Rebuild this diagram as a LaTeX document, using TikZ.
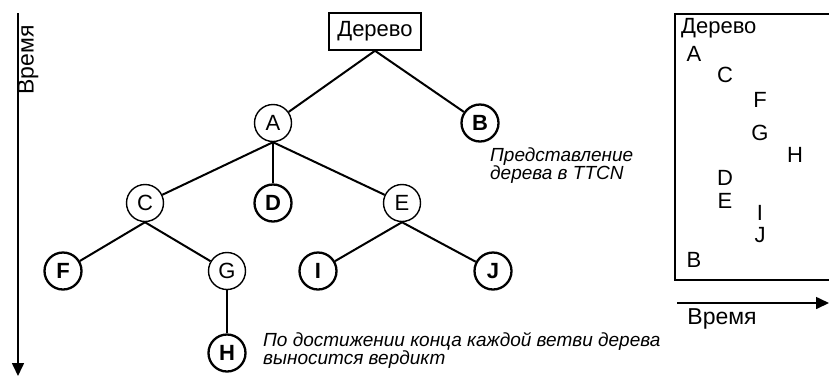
\documentclass[tikz,border=0pt]{standalone}
\usepackage{fontspec}
\setmainfont{Liberation Sans}
\usetikzlibrary{arrows.meta, positioning}

\begin{document}
\begin{tikzpicture}[
    x=1pt, y=-1pt,
    inner/.style={draw, circle, line width=1.4pt, minimum size=37pt, inner sep=0pt, font=\fontsize{22}{22}\selectfont},
    leaf/.style={inner, line width=2.3pt, font=\fontsize{22}{22}\selectfont\bfseries},
    root/.style={draw, rectangle, line width=1.5pt, minimum width=92pt, minimum height=37pt, inner sep=0pt, font=\fontsize{22}{22}\selectfont},
    branch/.style={draw, line width=2pt},
    entry/.style={inner sep=0pt, anchor=base, font=\fontsize{22}{22}\selectfont},
    note/.style={align=left, inner sep=0pt, anchor=west, font=\fontsize{19}{18}\selectfont\itshape},
    timeline/.style={draw, line width=1.6pt, -{Triangle[length=13pt,width=12pt]}}
]
\useasboundingbox (0,0) rectangle (829,376);

% tree
\node[root] (tree) at (375,31.5) {Дерево};
\node[inner] (A) at (273,123) {A};
\node[leaf]  (B) at (480,123) {B};
\node[inner] (C) at (145,203) {C};
\node[leaf]  (D) at (273,203) {D};
\node[inner] (E) at (402,203) {E};
\node[leaf]  (F) at (63,271) {F};
\node[inner] (G) at (227,271) {G};
\node[leaf]  (I) at (318,271) {I};
\node[leaf]  (J) at (493,271) {J};
\node[leaf]  (H) at (227,353) {H};

\draw[branch] (tree.south) -- (A);
\draw[branch] (tree.south) -- (B);
\draw[branch] (A.south) -- (C);
\draw[branch] (A.south) -- (D);
\draw[branch] (A.south) -- (E);
\draw[branch] (C.south) -- (F);
\draw[branch] (C.south) -- (G);
\draw[branch] (E.south) -- (I);
\draw[branch] (E.south) -- (J);
\draw[branch] (G.south) -- (H);

% notes
\node[note] (ttcn) at (490,166) {Представление\\дерева в TTCN};
\node[note] (verdict) at (263,350) {По достижении конца каждой ветви дерева\\выносится вердикт};

% vertical time axis
\coordinate (vtop) at (18,13);
\coordinate (vend) at (18,376);
\draw[timeline] (vtop) -- (vend);
\node[entry, anchor=center, rotate=90, font=\fontsize{23}{23}\selectfont] (vlabel) at (28,60) {Время};

% TTCN listing
\draw[line width=1.5pt] (829,14) -- (675,14) -- (675,280) -- (829,280);
\node[entry, anchor=base west] (lroot) at (681,33) {Дерево};
\node[entry] (lA) at (694,61) {A};
\node[entry] (lC) at (725,82) {C};
\node[entry] (lF) at (760,107) {F};
\node[entry] (lG) at (760,140) {G};
\node[entry] (lH) at (795,162) {H};
\node[entry] (lD) at (725,185) {D};
\node[entry] (lE) at (725,208) {E};
\node[entry] (lI) at (760,220) {I};
\node[entry] (lJ) at (760,242) {J};
\node[entry] (lB) at (694,267) {B};

% horizontal time axis
\coordinate (hstart) at (677,303);
\coordinate (hend) at (829,303);
\draw[timeline] (hstart) -- (hend);
\node[entry, anchor=center, font=\fontsize{23}{23}\selectfont] (hlabel) at (722,319) {Время};
\end{tikzpicture}
\end{document}
